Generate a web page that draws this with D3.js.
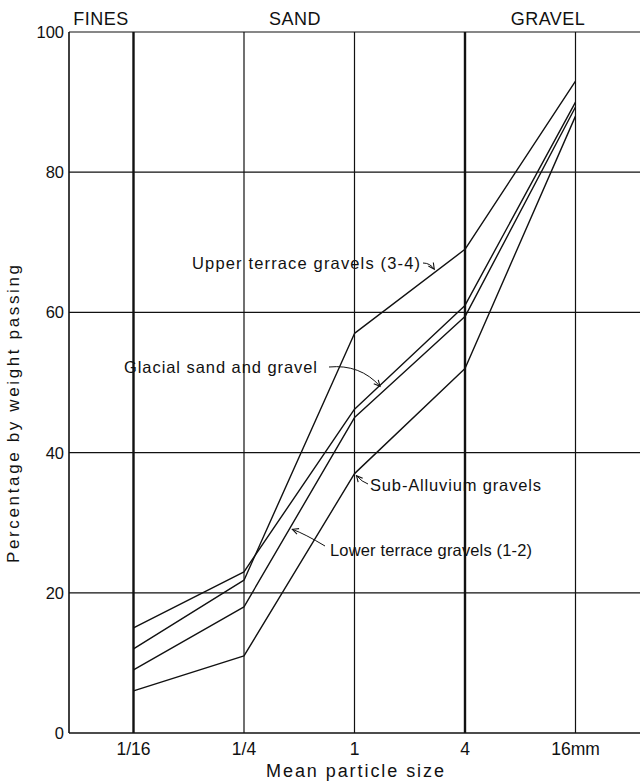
<!DOCTYPE html>
<html>
<head>
<meta charset="utf-8">
<script src="https://cdn.jsdelivr.net/npm/d3@7"></script>
<style>
  html, body { margin: 0; padding: 0; background: #fff; }
  svg { display: block; }
  text { font-family: "Liberation Sans", Arial, sans-serif; fill: #111; }
</style>
</head>
<body>
<svg id="chart" width="640" height="782"></svg>
<script>
// ---- data ----
const sizes = ["1/16", "1/4", "1", "4", "16mm"];
const upperTerrace = [12, 21.8, 57, 69, 93];
const glacial = [15, 23, 46.2, 61, 90];
const lowerTerrace = [9, 18, 45, 59.4, 89.3];
const subAlluvium = [6, 11, 37, 52, 88];
const yTicks = [0, 20, 40, 60, 80, 100];
const zones = ["FINES", "SAND", "GRAVEL"];
const boundarySizes = ["1/16", "4"];

const svg = d3.select("#chart");
const plotL = 69, plotR = 640, plotT = 32, plotB = 733;

const x = d3.scalePoint().domain(sizes).range([133.5, 575.5]);
const y = d3.scaleLinear().domain([0, 100]).range([plotB, plotT]);

const ink = "#111";

// horizontal grid lines
svg.append("g").selectAll("line").data(yTicks).join("line")
  .attr("x1", plotL).attr("x2", plotR)
  .attr("y1", d => y(d)).attr("y2", d => y(d))
  .attr("stroke", ink).attr("stroke-width", d => (d === 0 ? 1.6 : 1.2));

// vertical grid lines
svg.append("g").selectAll("line").data(sizes).join("line")
  .attr("x1", d => x(d)).attr("x2", d => x(d))
  .attr("y1", plotT).attr("y2", plotB)
  .attr("stroke", ink)
  .attr("stroke-width", d => boundarySizes.includes(d) ? 2.4 : 1.2);

// left axis line
svg.append("line")
  .attr("x1", plotL).attr("x2", plotL).attr("y1", plotT).attr("y2", plotB)
  .attr("stroke", ink).attr("stroke-width", 1.6);

// y tick labels
svg.append("g").selectAll("text").data(yTicks).join("text")
  .attr("x", 64).attr("y", d => y(d)).attr("dy", "0.36em")
  .attr("text-anchor", "end").attr("font-size", 16.5)
  .text(d => d);

// x tick labels
svg.append("g").selectAll("text").data(sizes).join("text")
  .attr("x", d => x(d)).attr("y", 755)
  .attr("text-anchor", "middle").attr("font-size", 17.5)
  .text(d => d);

// axis titles
svg.append("text").attr("x", 355).attr("y", 777)
  .attr("text-anchor", "middle").attr("font-size", 18)
  .attr("textLength", 178).attr("lengthAdjust", "spacing")
  .text("Mean particle size");
svg.append("text")
  .attr("transform", "translate(19,414) rotate(-90)")
  .attr("text-anchor", "middle").attr("font-size", 17)
  .attr("textLength", 298).attr("lengthAdjust", "spacing")
  .text("Percentage by weight passing");

// zone headers
const zoneX = [101, 295, 548];
svg.append("g").selectAll("text").data(zones).join("text")
  .attr("x", (d, i) => zoneX[i]).attr("y", 25)
  .attr("text-anchor", "middle").attr("font-size", 18)
  .attr("letter-spacing", 0.5)
  .text(d => d);

// series lines
const line = d3.line().x((d, i) => x(sizes[i])).y(d => y(d));
const series = [upperTerrace, glacial, lowerTerrace, subAlluvium];
svg.append("g").selectAll("path").data(series).join("path")
  .attr("d", d => line(d))
  .attr("fill", "none").attr("stroke", ink).attr("stroke-width", 1.4)
  .attr("stroke-linejoin", "round");

// arrow marker
svg.append("defs").append("marker")
  .attr("id", "arr").attr("viewBox", "-8 -5 10 10")
  .attr("refX", 0).attr("refY", 0)
  .attr("markerWidth", 10).attr("markerHeight", 10)
  .attr("markerUnits", "userSpaceOnUse")
  .attr("orient", "auto")
  .append("path").attr("d", "M-6,-3L0,0L-6,3")
  .attr("fill", "none").attr("stroke", ink).attr("stroke-width", 1.1);

function along(arr, i, t) {
  const x0 = x(sizes[i]), x1 = x(sizes[i + 1]);
  const y0 = y(arr[i]), y1 = y(arr[i + 1]);
  return [x0 + (x1 - x0) * t, y0 + (y1 - y0) * t];
}

const labelStyle = (sel, w) => sel.attr("font-size", 16.5)
  .attr("textLength", w).attr("lengthAdjust", "spacing");

// Upper terrace label
svg.append("text").attr("x", 192).attr("y", 269).call(labelStyle, 228)
  .text("Upper terrace gravels (3-4)");
{
  const p = along(upperTerrace, 2, 0.74);
  svg.append("path").attr("d", `M${423},${263} Q${430},${263} ${p[0] - 2},${p[1] - 2}`)
    .attr("fill", "none").attr("stroke", ink).attr("stroke-width", 1)
    .attr("marker-end", "url(#arr)");
}

// Glacial label
svg.append("text").attr("x", 124).attr("y", 373).call(labelStyle, 193)
  .text("Glacial sand and gravel");
{
  const p = along(glacial, 2, 0.24);
  svg.append("path").attr("d", `M${329},${367} Q${360},${364} ${p[0] - 1},${p[1] + 2}`)
    .attr("fill", "none").attr("stroke", ink).attr("stroke-width", 1)
    .attr("marker-end", "url(#arr)");
}

// Sub-Alluvium label
svg.append("text").attr("x", 370).attr("y", 491).call(labelStyle, 171)
  .text("Sub-Alluvium gravels");
{
  const px = x(sizes[2]), py = y(subAlluvium[2]);
  svg.append("path").attr("d", `M${368},${484} Q${362},${482} ${px + 2},${py + 2}`)
    .attr("fill", "none").attr("stroke", ink).attr("stroke-width", 1)
    .attr("marker-end", "url(#arr)");
}

// Lower terrace label
svg.append("text").attr("x", 330).attr("y", 556).call(labelStyle, 202)
  .text("Lower terrace gravels (1-2)");
{
  const p = along(lowerTerrace, 1, 0.42);
  svg.append("path").attr("d", `M${325},${546} Q${305},${534} ${p[0] + 2},${p[1] + 2}`)
    .attr("fill", "none").attr("stroke", ink).attr("stroke-width", 1)
    .attr("marker-end", "url(#arr)");
}
</script>
</body>
</html>
